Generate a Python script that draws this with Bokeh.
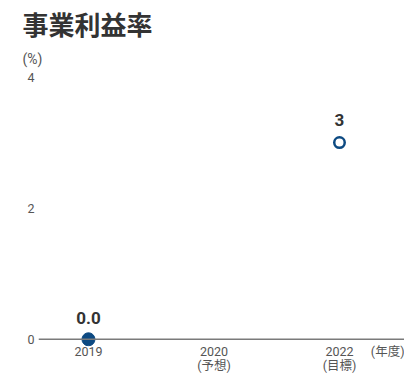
from bokeh.plotting import figure
from bokeh.models import FixedTicker, Span, Title, LinearAxis
from bokeh.core.properties import value
from bokeh.embed import file_html
from bokeh.resources import INLINE

# ---- data ----
categories = ["2019", "2020", "2022"]
notes = ["", "(予想)", "(目標)"]
unit_label = "(年度)"
cat_pos = [0, 1, 2]
unit_pos = 2.42
actual_x = [0]
actual_val = [0.0]
actual_txt = ["0.0"]
target_x = [2]
target_val = [3.0]
target_txt = ["3"]
y_ticks = [0, 2, 4]

BLUE = "#0d4a82"
FONT = "Roboto, 'Noto Sans CJK JP'"

p = figure(width=404, height=375, x_range=(-0.398, 2.518), y_range=(-0.11, 4.1),
           output_backend="svg", toolbar_location=None,
           min_border_left=38, min_border_right=0, min_border_bottom=0, min_border_top=63)

p.title.text = "事業利益率"
p.title.text_font = "Noto Sans CJK JP"
p.title.text_font_size = "26px"
p.title.text_font_style = "bold"
p.title.text_color = "#333333"
p.title.offset = -16
p.title.standoff = 5
p.add_layout(Title(text="(%)", text_font=FONT, text_font_size="14px", standoff=8,
                   text_font_style="normal", text_color="#555555", offset=-16), "above")

p.xgrid.visible = False
p.ygrid.visible = False
p.outline_line_color = None

p.add_layout(Span(location=0, dimension="width", line_color="#7a7a7a", line_width=1.5))

p.scatter(actual_x, actual_val, size=13, fill_color=BLUE, line_color=BLUE)
p.scatter(target_x, target_val, size=10.5, fill_color="white", line_color=BLUE, line_width=2.5)

p.text(actual_x, actual_val, text=actual_txt, text_align="center", text_baseline="alphabetic",
       y_offset=-21, text_font=value("Roboto"), text_font_size="17px", text_font_style="bold",
       text_color="#333333")
p.text(target_x, target_val, text=target_txt, text_align="center", text_baseline="alphabetic",
       y_offset=-23, text_font=value("Roboto"), text_font_size="17px", text_font_style="bold",
       text_color="#333333")


def style_x(ax, standoff):
    ax.axis_line_color = None
    ax.major_tick_line_color = None
    ax.minor_tick_line_color = None
    ax.major_tick_out = 0
    ax.major_tick_in = 0
    ax.minor_tick_out = 0
    ax.minor_tick_in = 0
    ax.major_label_text_font = FONT
    ax.major_label_text_font_size = "12.5px"
    ax.major_label_text_line_height = 1.0
    ax.major_label_text_color = "#555555"
    ax.major_label_standoff = standoff


xa = p.xaxis[0]
xa.ticker = FixedTicker(ticks=cat_pos + [unit_pos])
year_labels = {pos: c for pos, c in zip(cat_pos, categories)}
year_labels[unit_pos] = unit_label
xa.major_label_overrides = year_labels
style_x(xa, -3)

xa2 = LinearAxis()
note_pos = [pos for pos, n in zip(cat_pos, notes) if n]
xa2.ticker = FixedTicker(ticks=note_pos)
xa2.major_label_overrides = {pos: n for pos, n in zip(cat_pos, notes) if n}
style_x(xa2, -4)
p.add_layout(xa2, "below")

ya = p.yaxis[0]
ya.ticker = FixedTicker(ticks=y_ticks)
ya.axis_line_color = None
ya.major_tick_line_color = None
ya.minor_tick_line_color = None
ya.major_tick_out = 0
ya.major_tick_in = 0
ya.minor_tick_out = 0
ya.major_label_text_font = FONT
ya.major_label_text_font_size = "12.5px"
ya.major_label_text_color = "#555555"
ya.major_label_standoff = 4

open("out.html", "w").write(file_html(p, INLINE))
